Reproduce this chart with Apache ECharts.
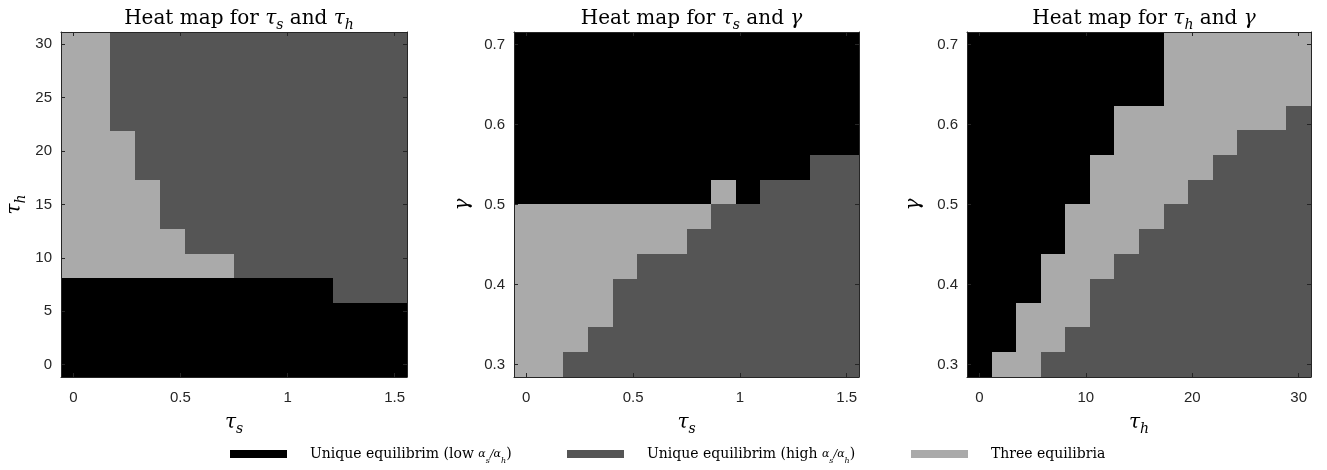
<!DOCTYPE html>
<html><head><meta charset="utf-8">
<script src="https://cdn.jsdelivr.net/npm/echarts@6/dist/echarts.min.js"></script>
<style>html,body{margin:0;padding:0;background:#fff}#c{width:1327px;height:470px}</style>
</head><body><div id="c"></div><script>
// parameter grids (14 points each)
const tauS = [0, 0.115, 0.231, 0.346, 0.462, 0.577, 0.692, 0.808, 0.923, 1.038, 1.154, 1.269, 1.385, 1.5];
const tauH = [0, 2.31, 4.62, 6.92, 9.23, 11.54, 13.85, 16.15, 18.46, 20.77, 23.08, 25.38, 27.69, 30];
const gamma = [0.3, 0.331, 0.362, 0.392, 0.423, 0.454, 0.485, 0.515, 0.546, 0.577, 0.608, 0.638, 0.669, 0.7];

// equilibrium type per cell, rows listed from the bottom row upward, columns left to right
// 0 = unique (low), 1 = unique (high), 2 = three equilibria
const mapTsTh = [
  '00000000000000', '00000000000000', '00000000000000', '00000000000111',
  '22222221111111', '22222111111111', '22221111111111', '22221111111111',
  '22211111111111', '22211111111111', '22111111111111', '22111111111111',
  '22111111111111', '22111111111111'
];
const mapTsG = [
  '22111111111111', '22211111111111', '22221111111111', '22221111111111',
  '22222111111111', '22222221111111', '22222222111111', '00000000201111',
  '00000000000011', '00000000000000', '00000000000000', '00000000000000',
  '00000000000000', '00000000000000'
];
const mapThG = [
  '02211111111111', '00221111111111', '00222111111111', '00022111111111',
  '00022211111111', '00002221111111', '00002222111111', '00000222211111',
  '00000222221111', '00000022222111', '00000022222221', '00000000222222',
  '00000000222222', '00000000222222'
];

// tick labels
const ticksTauS = [0, 0.5, 1, 1.5];
const ticksTauHy = [0, 5, 10, 15, 20, 25, 30];
const ticksTauHx = [0, 10, 20, 30];
const ticksGamma = [0.3, 0.4, 0.5, 0.6, 0.7];

const stateNames = ['Unique equilibrim (low)', 'Unique equilibrim (high)', 'Three equilibria'];
const stateColors = ['#000000', '#555555', '#aaaaaa'];

const SERIF = 'DejaVu Serif';
const SANS = 'Liberation Sans';
const AX = '#262626';

const mathRich = {
  i: {fontFamily: SERIF, fontStyle: 'italic', fontWeight: 'normal', fontSize: 20, lineHeight: 26, color: '#000', verticalAlign: 'middle'},
  b: {fontFamily: SERIF, fontStyle: 'italic', fontWeight: 'normal', fontSize: 14, lineHeight: 26, color: '#000', verticalAlign: 'bottom'},
  t: {fontFamily: SERIF, fontWeight: 'normal', fontSize: 20, lineHeight: 26, color: '#000', verticalAlign: 'middle'}
};

const panels = [
  {left: 61, width: 346, xs: tauS, ys: tauH, cells: mapTsTh, xTicks: ticksTauS, yTicks: ticksTauHy,
   title: '{t|Heat map for }{i|τ}{b|s}{t| and }{i|τ}{b|h}', xName: '{i|τ}{b|s}', yName: '{i|τ}{b|h}', yGap: 33},
  {left: 514, width: 345, xs: tauS, ys: gamma, cells: mapTsG, xTicks: ticksTauS, yTicks: ticksGamma,
   title: '{t|Heat map for }{i|τ}{b|s}{t| and }{i|γ}', xName: '{i|τ}{b|s}', yName: '{i|γ}', yGap: 38},
  {left: 967, width: 344, xs: tauH, ys: gamma, cells: mapThG, xTicks: ticksTauHx, yTicks: ticksGamma,
   title: '{t|Heat map for }{i|τ}{b|h}{t| and }{i|γ}', xName: '{i|τ}{b|h}', yName: '{i|γ}', yGap: 40}
];
const TOP = 32, HEIGHT = 345;

// cell edges: midpoints between neighbouring grid values, half a step beyond the ends
function edgesOf(v) {
  const n = v.length, e = [];
  e.push(v[0] - (v[1] - v[0]) / 2);
  for (let i = 0; i < n - 1; i++) e.push((v[i] + v[i + 1]) / 2);
  e.push(v[n - 1] + (v[n - 1] - v[n - 2]) / 2);
  return e;
}

const grids = [], xAxes = [], yAxes = [], series = [], titles = [];

panels.forEach((p, pi) => {
  const xe = edgesOf(p.xs), ye = edgesOf(p.ys);
  const xMin = xe[0], xMax = xe[xe.length - 1];
  const yMin = ye[0], yMax = ye[ye.length - 1];
  grids.push({left: p.left, top: TOP, width: p.width, height: HEIGHT, containLabel: false});
  titles.push({
    text: p.title, left: p.left + p.width / 2, top: 1, textAlign: 'center',
    textStyle: {fontWeight: 'normal', rich: mathRich}
  });
  const baseX = {
    type: 'value', gridIndex: pi, min: xMin, max: xMax, z: 5,
    splitLine: {show: false},
    axisLine: {show: true, onZero: false, lineStyle: {color: AX, width: 1}},
    axisTick: {show: true, inside: true, length: 4, lineStyle: {color: AX}, customValues: p.xTicks}
  };
  xAxes.push(Object.assign({}, baseX, {
    position: 'bottom',
    axisLabel: {show: true, margin: 13, color: AX, fontFamily: SANS, fontSize: 15, customValues: p.xTicks,
      formatter: v => String(v)},
    name: p.xName, nameLocation: 'middle', nameGap: 33, nameTextStyle: {rich: mathRich}
  }));
  xAxes.push(Object.assign({}, baseX, {position: 'top', axisLabel: {show: false}}));
  const baseY = {
    type: 'value', gridIndex: pi, min: yMin, max: yMax, z: 5,
    splitLine: {show: false},
    axisLine: {show: true, onZero: false, lineStyle: {color: AX, width: 1}},
    axisTick: {show: true, inside: true, length: 4, lineStyle: {color: AX}, customValues: p.yTicks}
  };
  yAxes.push(Object.assign({}, baseY, {
    position: 'left',
    axisLabel: {show: true, margin: 9, color: AX, fontFamily: SANS, fontSize: 15, customValues: p.yTicks,
      formatter: v => String(v)},
    name: p.yName, nameLocation: 'middle', nameGap: p.yGap, nameRotate: 90, nameTextStyle: {rich: mathRich}
  }));
  yAxes.push(Object.assign({}, baseY, {position: 'right', axisLabel: {show: false}}));

  for (let s = 0; s < 3; s++) {
    const data = [];
    p.cells.forEach((row, r) => {
      for (let c = 0; c < row.length; c++) {
        if (Number(row[c]) === s) data.push([p.xs[c], p.ys[r], c, r]);
      }
    });
    series.push({
      type: 'custom', name: stateNames[s], xAxisIndex: pi * 2, yAxisIndex: pi * 2,
      clip: true, silent: true, z: 1,
      itemStyle: {color: stateColors[s]},
      encode: {x: 0, y: 1},
      data: data,
      renderItem: (params, api) => {
        const c = api.value(2), r = api.value(3);
        const a = api.coord([xe[c], ye[r + 1]]);
        const b = api.coord([xe[c + 1], ye[r]]);
        const x0 = Math.round(a[0]), y0 = Math.round(a[1]);
        const x1 = Math.round(b[0]), y1 = Math.round(b[1]);
        return {
          type: 'rect',
          shape: {x: x0, y: y0, width: x1 - x0, height: y1 - y0},
          style: {fill: stateColors[s], stroke: null}
        };
      }
    });
  }
});

const legendRich = {
  t: {fontFamily: SERIF, fontSize: 14, color: '#000', lineHeight: 22, verticalAlign: 'middle'},
  a: {fontFamily: SERIF, fontStyle: 'italic', fontSize: 11, color: '#000', lineHeight: 22, verticalAlign: 'middle'},
  s: {fontFamily: SERIF, fontStyle: 'italic', fontSize: 8, color: '#000', lineHeight: 22, verticalAlign: 'bottom'}
};
const legendLabel = {
  'Unique equilibrim (low)': '{t|Unique equilibrim (low }{a|α}{s|s}{a|/α}{s|h}{t|)}',
  'Unique equilibrim (high)': '{t|Unique equilibrim (high }{a|α}{s|s}{a|/α}{s|h}{t|)}',
  'Three equilibria': '{t|Three equilibria}'
};
const legendLefts = [230, 567, 911];
const legends = stateNames.map((nm, i) => ({
  data: [nm], left: legendLefts[i], top: 447, orient: 'horizontal',
  icon: 'rect', itemWidth: 57, itemHeight: 8, selectedMode: false,
  padding: 0,
  formatter: name => legendLabel[name],
  textStyle: {rich: legendRich, padding: [0, 0, 0, 18]}
}));

const chart = echarts.init(document.getElementById('c'), null, {renderer: 'canvas'});
chart.setOption({
  animation: false,
  backgroundColor: '#ffffff',
  title: titles,
  grid: grids,
  xAxis: xAxes,
  yAxis: yAxes,
  legend: legends,
  series: series
});
</script></body></html>
